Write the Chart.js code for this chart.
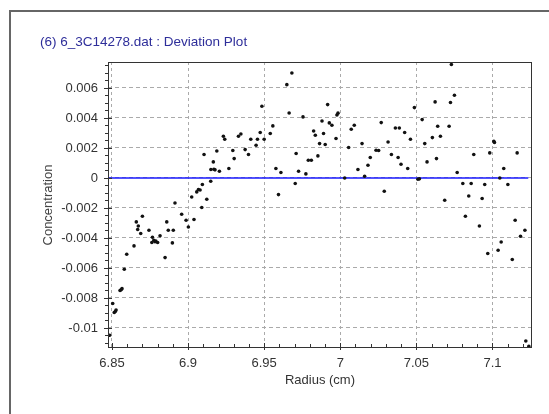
<!DOCTYPE html>
<html>
<head>
<meta charset="utf-8">
<script src="https://cdn.jsdelivr.net/npm/chart.js@4/dist/chart.umd.min.js"></script>
<style>
  html, body { margin: 0; padding: 0; background: #fff; }
  #wrap { position: relative; width: 549px; height: 414px; overflow: hidden; font-family: "Liberation Sans", Arial, sans-serif; }
  #frame { position: absolute; left: 9px; top: 10px; width: 600px; height: 500px; border-left: 2px solid #666; border-top: 2px solid #666; }
  #title { position: absolute; left: 40px; top: 34px; font-size: 13.5px; color: #2e2e9a; white-space: nowrap; }
  #ytitle { position: absolute; left: 0; top: 0; width: 120px; height: 16px; line-height: 16px; text-align: center; font-size: 13px; color: #444;
            transform: translate(-12px, 197px) rotate(-90deg); white-space: nowrap; }
  #xtitle { position: absolute; left: 260px; top: 372px; width: 120px; text-align: center; font-size: 13px; color: #333; white-space: nowrap; }
  canvas { position: absolute; left: 0; top: 0; }
</style>
</head>
<body>
<div id="wrap">
  <div id="frame"></div>
  <canvas id="deviationChart" width="549" height="414"></canvas>
  <div id="title">(6) 6_3C14278.dat : Deviation Plot</div>
  <div id="ytitle">Concentration</div>
  <div id="xtitle">Radius (cm)</div>
</div>
<script>
// данные
const radius = [
  6.8485, 6.8505, 6.8515, 6.8522, 6.8527, 6.8553, 6.8560, 6.8566, 6.8581, 6.8597,
  6.8645, 6.8660, 6.8669, 6.8673, 6.8689, 6.8700, 6.8743, 6.8766, 6.8775, 6.8788,
  6.8762, 6.8783, 6.8800, 6.8816, 6.8849, 6.8860, 6.8870, 6.8897, 6.8903, 6.8914,
  6.8958, 6.8987, 6.9002, 6.9039, 6.9090, 6.9024, 6.9057, 6.9068, 6.9079, 6.9094,
  6.9123, 6.9149, 6.9150, 6.9166, 6.9170, 6.9177, 6.9206, 6.9105, 6.9189, 6.9232,
  6.9241, 6.9268, 6.9294, 6.9303, 6.9331, 6.9347, 6.9375, 6.9397, 6.9412, 6.9447,
  6.9456, 6.9474, 6.9485, 6.9500, 6.9540, 6.9557, 6.9577, 6.9594, 6.9610, 6.9649,
  6.9664, 6.9682, 6.9704, 6.9710, 6.9726, 6.9755, 6.9774, 6.9790, 6.9810, 6.9825,
  6.9836, 6.9853, 6.9864, 6.9880, 6.9890, 6.9901, 6.9917, 6.9928, 6.9945, 6.9972,
  6.9978, 6.9985, 7.0029, 7.0055, 7.0072, 7.0092, 7.0116, 7.0143, 7.0160, 7.0182,
  7.0197, 7.0235, 7.0252, 7.0269, 7.0289, 7.0314, 7.0336, 7.0362, 7.0380, 7.0388,
  7.0399, 7.0423, 7.0443, 7.0461, 7.0487, 7.0510, 7.0520, 7.0538, 7.0555, 7.0570,
  7.0605, 7.0623, 7.0632, 7.0640, 7.0658, 7.0686, 7.0715, 7.0724, 7.0730, 7.0750,
  7.0768, 7.0805, 7.0822, 7.0844, 7.0860, 7.0877, 7.0914, 7.0932, 7.0949, 7.0969,
  7.0982, 7.1009, 7.1013, 7.1037, 7.1048, 7.1057, 7.1074, 7.1101, 7.1130, 7.1149,
  7.1162, 7.1184, 7.1213, 7.1219, 7.1239
];
const deviation = [
  -0.01049, -0.00837, -0.00897, -0.00890, -0.00880, -0.00750, -0.00745, -0.00738, -0.00609, -0.00509,
  -0.00453, -0.00293, -0.00344, -0.00320, -0.00370, -0.00255, -0.00349, -0.00395, -0.00415, -0.00420,
  -0.00430, -0.00425, -0.00430, -0.00385, -0.00531, -0.00293, -0.00349, -0.00433, -0.00349, -0.00167,
  -0.00242, -0.00282, -0.00327, -0.00277, -0.00197, -0.00127, -0.00093, -0.00077, -0.00080, -0.00044,
  -0.00142, -0.00022, 0.00056, 0.00107, 0.00058, 0.00054, 0.00045, 0.00156, 0.00180, 0.00278,
  0.00258, 0.00063, 0.00183, 0.00129, 0.00278, 0.00293, 0.00189, 0.00156, 0.00258, 0.00218,
  0.00258, 0.00303, 0.00478, 0.00258, 0.00296, 0.00347, 0.00063, -0.00111, 0.00036, 0.00622,
  0.00433, 0.00700, -0.00037, 0.00163, 0.00045, 0.00407, 0.00027, 0.00118, 0.00118, 0.00313,
  0.00285, 0.00147, 0.00229, 0.00380, 0.00296, 0.00223, 0.00489, 0.00367, 0.00351, 0.00263,
  0.00420, 0.00432, 0.00000, 0.00203, 0.00325, 0.00351, 0.00056, 0.00229, 0.00011, 0.00085,
  0.00136, 0.00185, 0.00183, 0.00369, -0.00089, 0.00240, 0.00156, 0.00333, 0.00136, 0.00333,
  0.00091, 0.00303, 0.00063, 0.00258, 0.00469, -0.00009, -0.00006, 0.00389, 0.00229, 0.00107,
  0.00269, 0.00507, 0.00129, 0.00345, 0.00278, -0.00149, 0.00345, 0.00503, 0.00756, 0.00551,
  0.00036, -0.00037, -0.00255, -0.00120, -0.00037, 0.00156, -0.00320, -0.00137, -0.00044, -0.00504,
  0.00167, 0.00245, 0.00236, -0.00482, 0.00000, -0.00427, 0.00063, -0.00044, -0.00544, -0.00282,
  0.00167, -0.00389, -0.00349, -0.01087, -0.01122
];

const xTicks = [6.85, 6.9, 6.95, 7.0, 7.05, 7.1];
const xTickLabels = ['6.85', '6.9', '6.95', '7', '7.05', '7.1'];
const yTicks = [-0.01, -0.008, -0.006, -0.004, -0.002, 0, 0.002, 0.004, 0.006];
const yTickLabels = ['-0.01', '-0.008', '-0.006', '-0.004', '-0.002', '0', '0.002', '0.004', '0.006'];

const xMin = 6.8474, xMax = 7.1253;
const yMin = -0.01127, yMax = 0.00773;

const points = radius.map((r, i) => ({ x: r, y: deviation[i] }));
const zeroLine = [{ x: xMin, y: 0 }, { x: 7.1235, y: 0 }];

// рамка графика и мелкие засечки
const axisDecor = {
    id: 'axisDecor',
    afterDraw(chart) {
        const { ctx, chartArea: a, scales: { x, y } } = chart;
        ctx.save();
        ctx.strokeStyle = '#333';
        ctx.lineWidth = 1;
        ctx.strokeRect(a.left + 0.5, a.top + 0.5, a.right - a.left, a.bottom - a.top);

        ctx.beginPath();
        for (let v = -0.011; v <= 0.0076; v += 0.0005) {
            const py = Math.round(y.getPixelForValue(v)) + 0.5;
            if (py < a.top || py > a.bottom) continue;
            ctx.moveTo(a.left - 3, py);
            ctx.lineTo(a.left, py);
        }
        yTicks.forEach(v => {
            const py = Math.round(y.getPixelForValue(v)) + 0.5;
            ctx.moveTo(a.left - 4, py);
            ctx.lineTo(a.left + 4, py);
        });
        for (let v = 6.85; v <= 7.125; v += 0.01) {
            const px = Math.round(x.getPixelForValue(v)) + 0.5;
            if (px < a.left || px > a.right) continue;
            ctx.moveTo(px, a.bottom);
            ctx.lineTo(px, a.bottom - 3);
        }
        xTicks.forEach(v => {
            const px = Math.round(x.getPixelForValue(v)) + 0.5;
            ctx.moveTo(px, a.bottom + 3);
            ctx.lineTo(px, a.bottom - 4);
        });
        ctx.stroke();
        ctx.restore();
    }
};

const ctx = document.getElementById('deviationChart').getContext('2d');
const chart = new Chart(ctx, {
    type: 'scatter',
    data: {
        datasets: [{
            label: 'Zero',
            type: 'line',
            data: zeroLine,
            borderColor: '#1a1aff',
            borderWidth: 1.5,
            pointRadius: 0,
            fill: false,
            order: 2
        }, {
            label: 'Deviation',
            data: points,
            backgroundColor: '#111',
            borderColor: '#111',
            pointRadius: 1.8,
            pointBorderWidth: 0,
            order: 1
        }]
    },
    options: {
        responsive: false,
        animation: false,
        layout: { padding: { left: 0, top: 62, right: 18, bottom: 0 } },
        plugins: { legend: { display: false }, tooltip: { enabled: false } },
        scales: {
            x: {
                type: 'linear',
                min: xMin,
                max: xMax,
                afterBuildTicks: s => { s.ticks = xTicks.map(v => ({ value: v })); },
                afterFit: s => { s.height = 67; },
                ticks: {
                    padding: 9,
                    color: '#333',
                    font: { family: 'Liberation Sans', size: 13 },
                    maxRotation: 0,
                    callback: (v, i) => xTickLabels[i]
                },
                grid: { color: '#aaaaaa', lineWidth: 1, drawTicks: false },
                border: { display: false, dash: [3, 3] }
            },
            y: {
                type: 'linear',
                min: yMin,
                max: yMax,
                afterBuildTicks: s => { s.ticks = yTicks.map(v => ({ value: v })); },
                afterFit: s => { s.width = 108; },
                ticks: {
                    padding: 10,
                    color: '#333',
                    font: { family: 'Liberation Sans', size: 13 },
                    callback: (v, i) => yTickLabels[i]
                },
                grid: { color: '#aaaaaa', lineWidth: 1, drawTicks: false },
                border: { display: false, dash: [4, 3] }
            }
        }
    },
    plugins: [axisDecor]
});
</script>
</body>
</html>
